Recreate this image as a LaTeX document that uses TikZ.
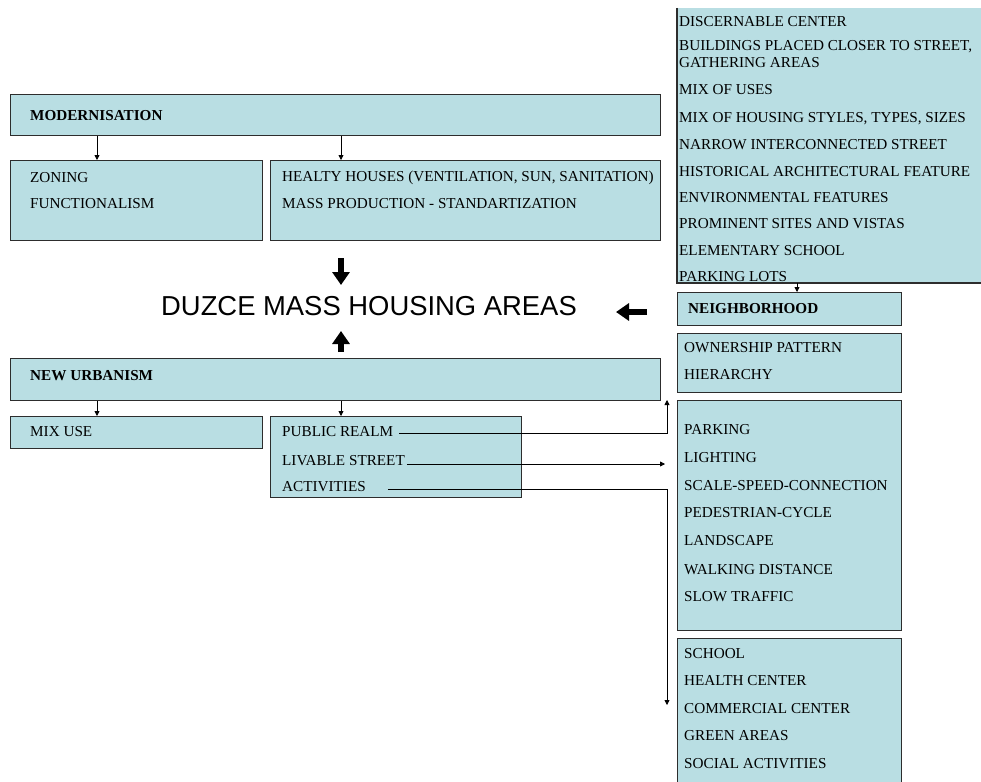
\documentclass[tikz,border=0pt]{standalone}
\usepackage{fontspec}
\setmainfont{Liberation Serif}
\newfontfamily\arialf{Liberation Sans}
\usetikzlibrary{arrows.meta,calc}
\definecolor{boxblue}{RGB}{185,222,227}
\definecolor{edge}{RGB}{45,45,45}
\tikzset{
  box/.style={draw=edge, fill=boxblue, line width=1.1pt, anchor=north west, inner sep=0pt},
  txt/.style={anchor=west, inner sep=0pt, font=\fontsize{15.2}{16}\selectfont},
  btxt/.style={txt, font=\fontsize{15.2}{16}\selectfont\bfseries},
  arr/.style={line width=0.8pt, -{Triangle[length=5pt,width=5pt]}},
  bigarr/.style={line width=6pt, -{Triangle[length=13pt,width=17pt]}},
}
\begin{document}
\begin{tikzpicture}[x=1pt,y=-1pt]
\useasboundingbox (0,0) rectangle (981,781);
\fill[white] (0,0) rectangle (981,781);
% top-right box (open at top and right)
\fill[boxblue] (677,8) rectangle (985,283);
\draw[edge, line width=1.1pt] (677,8) -- (677,283) -- (985,283);
\coordinate (crit) at (797,283);
\foreach \t/\y in {DISCERNABLE CENTER/22, {BUILDINGS PLACED CLOSER TO STREET,}/47, GATHERING AREAS/63, MIX OF USES/90, {MIX OF HOUSING STYLES, TYPES, SIZES}/119, NARROW INTERCONNECTED STREET/145, HISTORICAL ARCHITECTURAL FEATURE/172, ENVIRONMENTAL FEATURES/198, PROMINENT SITES AND VISTAS/224, ELEMENTARY SCHOOL/251, PARKING LOTS/277}
  \node[txt] at (679,\y) {\t};

% left column boxes
\node[box, minimum width=650pt, minimum height=41pt] (mod) at (10,94) {};
\node[btxt] at (30,116) {MODERNISATION};
\node[box, minimum width=252pt, minimum height=80pt] (zon) at (10,160) {};
\node[txt] at (30,178) {ZONING};
\node[txt] at (30,204) {FUNCTIONALISM};
\node[box, minimum width=390pt, minimum height=80pt] (hea) at (270,160) {};
\node[txt] at (282,178) {HEALTY HOUSES (VENTILATION, SUN, SANITATION)};
\node[txt] at (282,204) {MASS PRODUCTION - STANDARTIZATION};
\draw[arr] (97,0 |- mod.south) -- (97,0 |- zon.north);
\draw[arr] (341,0 |- mod.south) -- (341,0 |- hea.north);

\node[font=\arialf\fontsize{27.4}{28}\selectfont, inner sep=0pt] (duz) at (369,306) {DUZCE MASS HOUSING AREAS};
\draw[bigarr] (341,258) -- (341,285);
\draw[bigarr] (341,352) -- (341,331);
\draw[bigarr] (647,312) -- (616,312);

\node[box, minimum width=650pt, minimum height=42pt] (nu) at (10,358) {};
\node[btxt] at (30,376) {NEW URBANISM};
\node[box, minimum width=252pt, minimum height=32pt] (mix) at (10,416) {};
\node[txt] at (30,432) {MIX USE};
\node[box, minimum width=251pt, minimum height=81pt] (pub) at (270,416) {};
\node[txt] (pr) at (282,432) {PUBLIC REALM};
\node[txt] (ls) at (282,461) {LIVABLE STREET};
\node[txt] (ac) at (282,487) {ACTIVITIES};
\draw[arr] (97,0 |- nu.south) -- (97,0 |- mix.north);
\draw[arr] (341,0 |- nu.south) -- (341,0 |- pub.north);

% right column boxes
\node[box, minimum width=224pt, minimum height=33pt] (nei) at (677,292) {};
\node[btxt] at (688,309) {NEIGHBORHOOD};
\draw[arr] (crit) -- (crit |- nei.north);
\node[box, minimum width=224pt, minimum height=59pt] (own) at (677,333) {};
\node[txt] at (684,348) {OWNERSHIP PATTERN};
\node[txt] at (684,375) {HIERARCHY};
\node[box, minimum width=224pt, minimum height=230pt] (par) at (677,400) {};
\foreach \t/\y in {PARKING/430, LIGHTING/458, SCALE-SPEED-CONNECTION/486, PEDESTRIAN-CYCLE/513, LANDSCAPE/541, WALKING DISTANCE/570, SLOW TRAFFIC/597}
  \node[txt] at (684,\y) {\t};
\node[box, minimum width=224pt, minimum height=160pt] (sch) at (677,638) {};
\foreach \t/\y in {SCHOOL/654, HEALTH CENTER/681, COMMERCIAL CENTER/709, GREEN AREAS/736, SOCIAL ACTIVITIES/764}
  \node[txt] at (684,\y) {\t};

% connectors from public realm box
\coordinate (prE) at ($(pr.east)+(6,1)$);
\coordinate (lsE) at ($(ls.east)+(2,3)$);
\coordinate (acE) at ($(ac.east)+(22,2)$);
\draw[arr] (prE) -- (667,433) -- (667,400);
\draw[arr] (lsE) -- (665,464);
\draw[arr] (acE) -- (667,489) -- (667,705);
\end{tikzpicture}
\end{document}
